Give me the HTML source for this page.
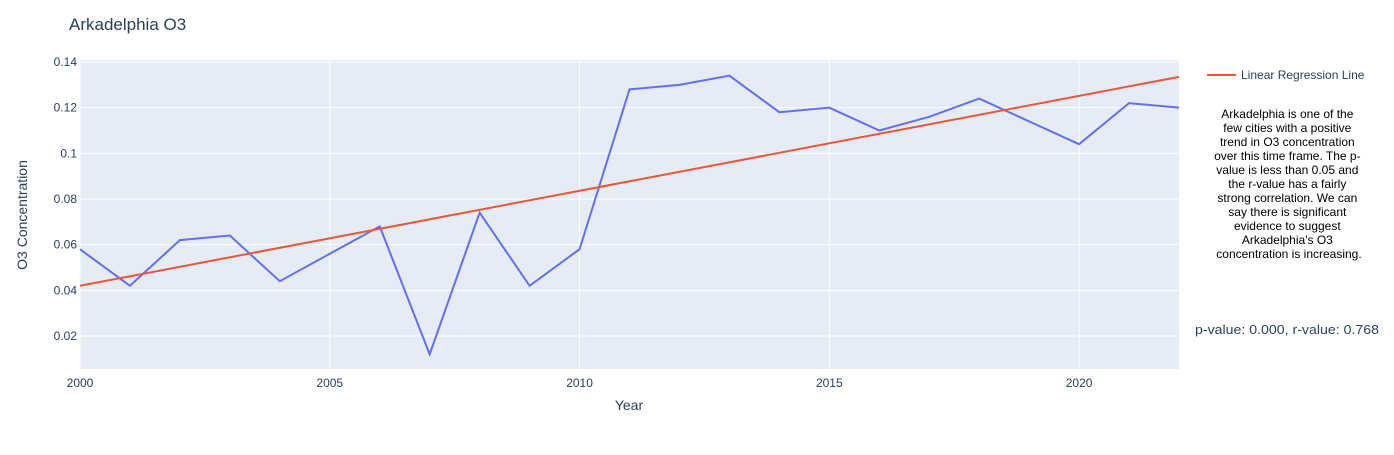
<!DOCTYPE html>
<html><head><meta charset="utf-8"><style>
body{margin:0;background:#fff;font-family:"Liberation Sans",Arial,sans-serif;}
svg text{font-family:"Liberation Sans",Arial,sans-serif;}
</style></head><body>
<svg id="chart" width="1394" height="450">
<text x="69" y="30" font-size="17" fill="#2a3f5f">Arkadelphia O3</text>
<rect x="80" y="60" width="1099" height="309" fill="#e5ecf6"/>
<g id="grid"></g>
<g id="marks"></g>
<text x="629" y="410" font-size="14" fill="#2a3f5f" text-anchor="middle">Year</text>
<text transform="translate(27,215) rotate(-90)" font-size="14" fill="#2a3f5f" text-anchor="middle">O3 Concentration</text>
<g>
<line x1="1207" y1="75" x2="1236" y2="75" stroke="#ef553b" stroke-width="2"/>
<text x="1241" y="79" font-size="12" fill="#2a3f5f">Linear Regression Line</text>
</g>
<text font-size="12" fill="#000" text-anchor="middle">
<tspan x="1289" y="118">Arkadelphia is one of the</tspan>
<tspan x="1289" y="132">few cities with a positive</tspan>
<tspan x="1289" y="146">trend in O3 concentration</tspan>
<tspan x="1289" y="160">over this time frame. The p-</tspan>
<tspan x="1289" y="174">value is less than 0.05 and</tspan>
<tspan x="1289" y="188">the r-value has a fairly</tspan>
<tspan x="1289" y="202">strong correlation. We can</tspan>
<tspan x="1289" y="216">say there is significant</tspan>
<tspan x="1289" y="230">evidence to suggest</tspan>
<tspan x="1289" y="244">Arkadelphia's O3</tspan>
<tspan x="1289" y="258">concentration is increasing.</tspan>
</text>
<text x="1195" y="334" font-size="13" fill="#2a3f5f" textLength="184" lengthAdjust="spacingAndGlyphs">p-value: 0.000, r-value: 0.768</text>
</svg>
<script>
const years=[2000,2001,2002,2003,2004,2005,2006,2007,2008,2009,2010,2011,2012,2013,2014,2015,2016,2017,2018,2019,2020,2021,2022];
const o3=[0.058,0.042,0.062,0.064,0.044,0.056,0.068,0.012,0.074,0.042,0.058,0.128,0.130,0.134,0.118,0.120,0.110,0.116,0.124,0.114,0.104,0.122,0.120];
const regYears=[2000,2022];
const regValues=[0.042,0.1335];
const xTicks=[2000,2005,2010,2015,2020];
const yTicks=[0.02,0.04,0.06,0.08,0.1,0.12,0.14];
const yTickLabels=["0.02","0.04","0.06","0.08","0.1","0.12","0.14"];
const X=v=>80+(v-2000)*(1099/22);
const Y=v=>381.67-v*(274/0.12);
const ns="http://www.w3.org/2000/svg";
const grid=document.getElementById('grid'),marks=document.getElementById('marks');
function mk(tag,attrs,parent){const e=document.createElementNS(ns,tag);for(const k in attrs)e.setAttribute(k,attrs[k]);parent.appendChild(e);return e;}
xTicks.forEach(t=>{
 const l=mk('line',{x1:X(t),x2:X(t),y1:60,y2:369,stroke:'#fff','stroke-width':1},grid);
 
 
 const tx=mk('text',{x:X(t),y:387,'font-size':12,fill:'#2a3f5f','text-anchor':'middle'},grid);
 tx.textContent=t;
 
 
});
yTicks.forEach((t,i)=>{
 const l=mk('line',{x1:80,x2:1179,y1:Y(t),y2:Y(t),stroke:'#fff','stroke-width':1},grid);
 
 
 const tx=mk('text',{x:77,y:Y(t)+4,'font-size':12,fill:'#2a3f5f','text-anchor':'end'},grid);
 tx.textContent=yTickLabels[i];
 
 
});
const p=mk('polyline',{points:years.map((y,i)=>X(y)+','+Y(o3[i])).join(' '),fill:'none',stroke:'#636efa','stroke-width':2},marks);


const r=mk('polyline',{points:regYears.map((y,i)=>X(y)+','+Y(regValues[i])).join(' '),fill:'none',stroke:'#ef553b','stroke-width':2},marks);


</script>
</body></html>
